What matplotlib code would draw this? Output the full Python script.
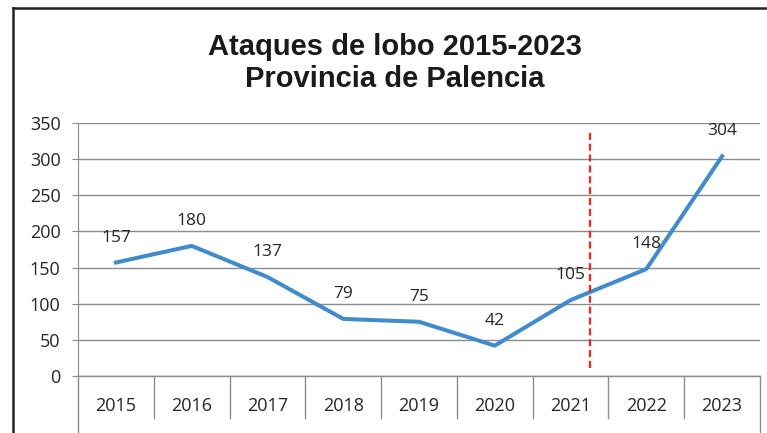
import numpy as np
import matplotlib.pyplot as plt
from matplotlib.lines import Line2D
import matplotlib.transforms as mtransforms

years = ["2015", "2016", "2017", "2018", "2019", "2020", "2021", "2022", "2023"]
ataques = [157, 180, 137, 79, 75, 42, 105, 148, 304]
yticks = [0, 50, 100, 150, 200, 250, 300, 350]
corte_x = 6.25          # linea roja entre 2021 y 2022
corte_y = [11, 338]

plt.rcParams['font.family'] = ['Open Sans', 'DejaVu Sans']
W, H = 767, 433
fig = plt.figure(figsize=(W / 100, H / 100), dpi=100)
ax = fig.add_axes([78 / W, 1 - 376 / H, (760 - 78) / W, (376 - 123) / H])

x = np.arange(len(years))
ax.plot(x, ataques, color='#3F8BCD', lw=2.9, solid_joinstyle='round', zorder=3)
for xi, v in zip(x, ataques):
    ax.annotate(str(v), (xi, v), xytext=(0, 18), textcoords='offset points',
                ha='center', va='center', fontsize=12.5, color='#262626')

ax.plot([corte_x, corte_x], corte_y, color='#E0302A', lw=1.7,
        ls=(0, (3, 1.6)), zorder=4)

ax.set_xlim(-0.5, len(years) - 0.5)
ax.set_ylim(0, 350)
ax.set_yticks(yticks)
ax.grid(axis='y', color='#8C8C8C', lw=1)
ax.set_axisbelow(True)
for s in ['top', 'right', 'bottom']:
    ax.spines[s].set_visible(False)
ax.spines['left'].set_color('#8C8C8C')
ax.tick_params(axis='y', length=4.5, color='#8C8C8C', labelsize=13,
               labelcolor='#262626', pad=8)
ax.set_xticks(x)
ax.set_xticklabels(years)
ax.tick_params(axis='x', length=0, labelsize=13, labelcolor='#262626', pad=15)

# cajas de categorias bajo el eje
tr = mtransforms.blended_transform_factory(ax.transData, ax.transAxes)
ax.plot([-0.5, len(years) - 0.5], [0, 0], color='#8C8C8C', lw=1,
        transform=tr, clip_on=False)
for b in np.arange(0.5, len(years) - 1, 1):
    ax.add_line(Line2D([b, b], [0, -0.166], color='#8C8C8C', lw=1,
                       transform=tr, clip_on=False))
for b in [-0.5, len(years) - 0.5]:
    ax.add_line(Line2D([b, b], [0, -0.3], color='#8C8C8C', lw=1,
                       transform=tr, clip_on=False))

fig.text(395 / W, 1 - 47 / H, "Ataques de lobo 2015-2023", ha='center',
         va='center', fontsize=21, fontweight='bold',
         family=['Liberation Sans', 'DejaVu Sans'], color='#1A1A1A')
fig.text(395 / W, 1 - 79 / H, "Provincia de Palencia", ha='center',
         va='center', fontsize=21, fontweight='bold',
         family=['Liberation Sans', 'DejaVu Sans'], color='#1A1A1A')

# marco
fig.add_artist(Line2D([12.5 / W, 1], [1 - 8 / H, 1 - 8 / H], color='#222222', lw=1.8))
fig.add_artist(Line2D([12.5 / W, 12.5 / W], [0, 1 - 8 / H], color='#222222', lw=1.8))

fig.savefig("out.png", dpi=100)
